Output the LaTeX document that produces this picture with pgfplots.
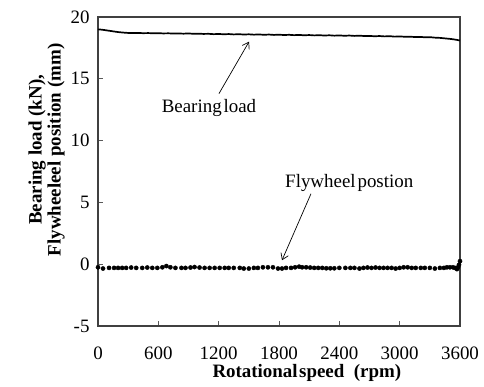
\documentclass[border=0pt]{standalone}
\usepackage{pgfplots}
\pgfplotsset{compat=1.18}
\usepackage{pgfplotstable}
\usetikzlibrary{arrows.meta}
\usepackage{fontspec}
\setmainfont{Liberation Serif}

\pgfplotstableread{
x y
0 19.00
30 18.98
60 18.95
100 18.90
150 18.84
200 18.78
250 18.74
300 18.71
350 18.70
400 18.71
450 18.69
500 18.70
550 18.68
600 18.69
650 18.67
700 18.68
750 18.66
800 18.67
850 18.65
900 18.67
950 18.64
1000 18.65
1050 18.63
1100 18.64
1150 18.61
1200 18.63
1250 18.60
1300 18.62
1350 18.59
1400 18.61
1450 18.58
1500 18.60
1550 18.57
1600 18.59
1650 18.56
1700 18.58
1750 18.55
1800 18.57
1850 18.54
1900 18.56
1950 18.53
2000 18.55
2050 18.52
2100 18.54
2150 18.51
2200 18.53
2250 18.50
2300 18.52
2350 18.49
2400 18.51
2450 18.48
2500 18.50
2550 18.47
2600 18.49
2650 18.46
2700 18.47
2750 18.44
2800 18.46
2850 18.43
2900 18.45
2950 18.41
3000 18.43
3050 18.40
3100 18.41
3150 18.38
3200 18.39
3250 18.36
3300 18.37
3350 18.33
3400 18.31
3450 18.27
3500 18.23
3530 18.20
3560 18.16
3580 18.13
3600 18.10
}\bearing

\pgfplotstableread{
x y
0 -0.25
50 -0.35
110 -0.30
160 -0.30
200 -0.30
240 -0.30
280 -0.30
330 -0.27
380 -0.30
440 -0.30
490 -0.27
540 -0.30
590 -0.30
640 -0.25
680 -0.15
720 -0.25
770 -0.30
830 -0.30
870 -0.30
920 -0.27
960 -0.23
1010 -0.27
1060 -0.30
1110 -0.30
1160 -0.30
1210 -0.30
1260 -0.30
1300 -0.30
1350 -0.30
1410 -0.30
1450 -0.35
1500 -0.35
1550 -0.30
1590 -0.30
1640 -0.25
1690 -0.25
1740 -0.25
1790 -0.35
1830 -0.35
1870 -0.30
1920 -0.30
1960 -0.25
2000 -0.20
2030 -0.25
2070 -0.25
2110 -0.27
2150 -0.30
2190 -0.30
2230 -0.30
2270 -0.33
2310 -0.33
2350 -0.33
2400 -0.30
2460 -0.30
2510 -0.30
2550 -0.30
2600 -0.35
2640 -0.30
2680 -0.27
2720 -0.30
2760 -0.27
2800 -0.30
2840 -0.30
2880 -0.30
2920 -0.30
2960 -0.35
3000 -0.30
3040 -0.25
3080 -0.25
3120 -0.30
3160 -0.30
3210 -0.30
3250 -0.30
3300 -0.30
3350 -0.35
3400 -0.30
3440 -0.30
3470 -0.25
3500 -0.25
3530 -0.25
3550 -0.30
3570 -0.40
3580 -0.25
3590 -0.05
3600 0.25
}\flywheel

\begin{document}
\begin{tikzpicture}
\begin{axis}[
  name=ax,
  scale only axis,
  width=362bp, height=309bp,
  xmin=0, xmax=3600, ymin=-5, ymax=20,
  xtick={0,600,1200,1800,2400,3000,3600},
  xticklabels={0,600,1200,1800,2400,3000,3600},
  ytick={-5,0,5,10,15,20},
  yticklabels={-5,0,5,10,15,20},
  tick align=inside,
  xtick pos=bottom, ytick pos=left,
  major tick length=5bp,
  axis line style={line width=1.4pt, black!75},
  tick style={black!65, line width=0.7pt},
  ticklabel style={font=\fontsize{19}{19}\selectfont, text=black},
  xticklabel style={anchor=center, yshift=-27bp},
  yticklabel style={xshift=-5bp},
  xlabel={\textbf{Rotational\hspace{0.08em}speed\ \ (rpm)}},
  ylabel={\textbf{Bearing load (kN),}\\\textbf{Flywheeleel position (mm)}},
  ylabel style={align=center, font=\fontsize{19}{19}\selectfont, at={(ticklabel cs:0.57)}, yshift=-1bp},
  xlabel style={font=\fontsize{19}{19}\selectfont, at={(axis description cs:0.577,0)}, anchor=center, yshift=-47bp},
]
\addplot[black, line width=1.7pt] table[x=x,y=y] {\bearing};
\addplot[only marks, mark=*, mark size=2.1bp, black] table[x=x,y=y] {\flywheel};
\draw[-{Straight Barb[length=6pt,width=8pt]}, line width=0.7pt] (axis cs:1203,13.8) -- (axis cs:1502,18.0);
\node[font=\fontsize{19}{19}\selectfont] at (axis cs:1104,12.65) {Bearing\hspace{0.1em}load};
\draw[-{Straight Barb[length=6pt,width=8pt]}, line width=0.7pt] (axis cs:2118,5.7) -- (axis cs:1830,0.32);
\node[font=\fontsize{19}{19}\selectfont, anchor=west, inner sep=0pt] at (axis cs:1860,6.57) {Flywheel\hspace{0.1em}postion};
\end{axis}
\pgfresetboundingbox
\path (ax.south west) ++(-98bp,-61bp) coordinate (bl);
\path (ax.north east) ++(24bp,17bp) coordinate (tr);
\path[use as bounding box] (bl) rectangle (tr);
\end{tikzpicture}
\end{document}
